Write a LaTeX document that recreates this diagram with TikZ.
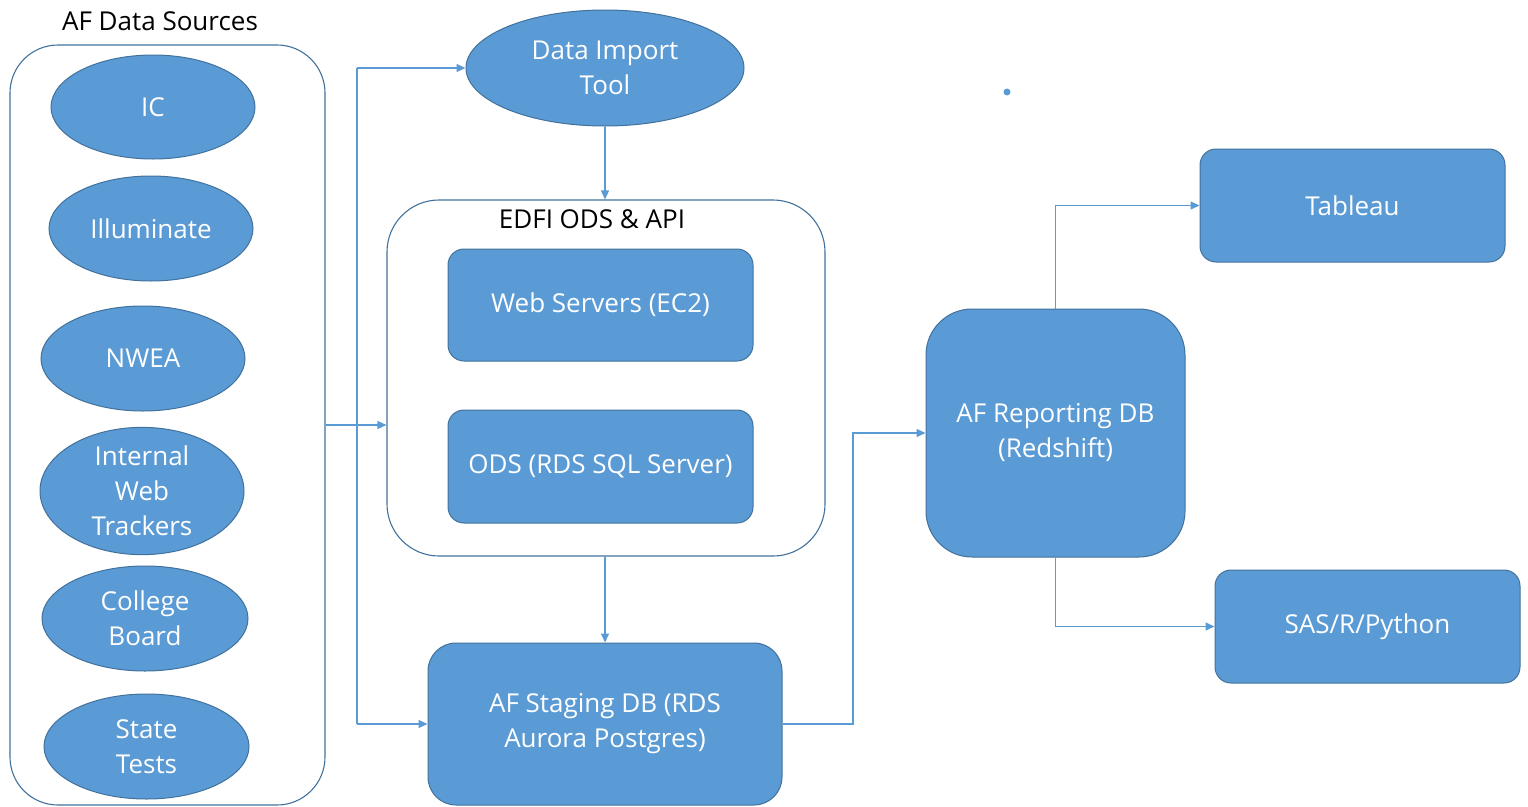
\documentclass[tikz,border=0pt]{standalone}
\usepackage{fontspec}
\setmainfont{Open Sans}
\usetikzlibrary{shapes.geometric,arrows.meta}
\definecolor{fillblue}{HTML}{5B9BD5}
\definecolor{edgeblue}{HTML}{41719C}
\definecolor{lineblue}{HTML}{5B9BD5}
\tikzset{
  txt/.style={font=\fontsize{26}{35}\selectfont, text=white, align=center},
  oval/.style={ellipse, fill=fillblue, draw=edgeblue, line width=1pt, inner sep=0pt, txt},
  box/.style={rectangle, rounded corners=16pt, fill=fillblue, draw=edgeblue, line width=1pt, inner sep=0pt, txt},
  group/.style={rectangle, draw=edgeblue, line width=1.1pt, fill=none, inner sep=0pt},
  conn/.style={draw=lineblue, line width=1.4pt, -{Triangle[length=9pt,width=8pt]}},
  plain/.style={draw=lineblue, line width=1.4pt},
  lbl/.style={font=\fontsize{26}{35}\selectfont, text=black}
}
\begin{document}
\begin{tikzpicture}[x=1pt,y=-1pt]
\useasboundingbox (0,0) rectangle (1528,806);
% containers
\node[group, rounded corners=48pt, minimum width=315pt, minimum height=760pt] (src) at (167.5,425) {};
\node[lbl] (srct) at (160,21) {AF Data Sources};
\node[group, rounded corners=52pt, minimum width=438pt, minimum height=356pt] (edfi) at (606,378) {};
\node[lbl, anchor=center] (edfit) at (592,219) {EDFI ODS \& API};
% source ellipses
\node[oval, minimum width=204pt, minimum height=104pt] (ic) at (153,107) {IC};
\node[oval, minimum width=204pt, minimum height=105pt] (ill) at (151,228.5) {Illuminate};
\node[oval, minimum width=204pt, minimum height=105pt] (nwea) at (143,358.5) {NWEA};
\node[oval, minimum width=204pt, minimum height=104pt] (iwt) at (142,491) {Internal\\Web\\Trackers};
\node[oval, minimum width=206pt, minimum height=105pt] (cb) at (145,618.5) {College\\Board};
\node[oval, minimum width=205pt, minimum height=105pt] (st) at (146.5,746.5) {State\\Tests};
% data import tool
\node[oval, minimum width=278pt, minimum height=116pt] (dit) at (605,68) {Data Import\\Tool};
% EDFI inner boxes
\node[box, minimum width=305pt, minimum height=112pt] (web) at (600.5,305) {Web Servers (EC2)};
\node[box, minimum width=305pt, minimum height=113pt] (ods) at (600.5,466.5) {ODS (RDS SQL Server)};
% staging
\node[box, rounded corners=28pt, minimum width=354pt, minimum height=162pt] (stg) at (605,724) {AF Staging DB (RDS\\Aurora Postgres)};
% reporting
\node[box, rounded corners=46pt, minimum width=259pt, minimum height=248pt] (rep) at (1055.5,433) {AF Reporting DB\\(Redshift)};
% outputs
\node[box, minimum width=305pt, minimum height=113pt] (tab) at (1352.5,205.5) {Tableau};
\node[box, minimum width=305pt, minimum height=113pt] (sas) at (1367.5,626.5) {SAS/R/Python};
% stray dot
\fill[fillblue] (1007,92) circle (3.5pt);
% connectors
\coordinate (j) at (357,425);
\coordinate (jt) at (357,68);
\coordinate (jb) at (357,724);
\draw[conn] (src.east |- j) -- (edfi.west |- j);
\draw[plain] (j) -- (jt);
\draw[conn] (jt) -- (dit.west);
\draw[plain] (j) -- (jb);
\draw[conn] (jb) -- (stg.west);
\draw[conn] (dit.south) -- (edfi.north -| dit.south);
\draw[conn] (edfi.south -| stg.north) -- (stg.north);
\draw[conn] (stg.east) -- (853,724) -- (853,433) -- (rep.west);
\draw[conn] (rep.north) -- (1055.5,205.5) -- (tab.west);
\draw[conn] (rep.south) -- (1055.5,626.5) -- (sas.west);
\end{tikzpicture}
\end{document}
